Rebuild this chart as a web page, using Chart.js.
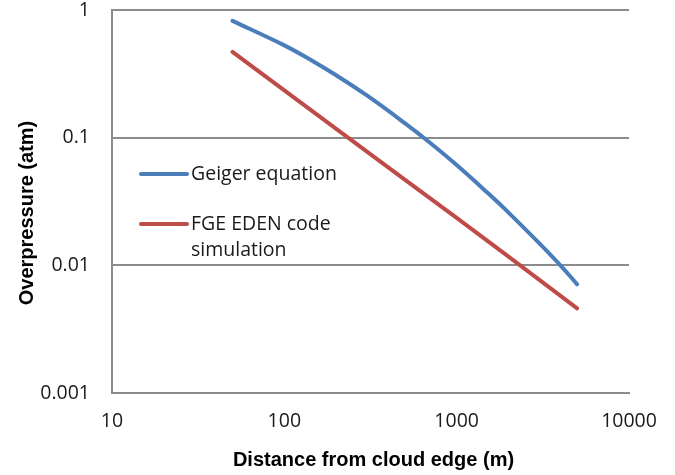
<!DOCTYPE html>
<html>
<head>
<meta charset="utf-8">
<script src="https://cdn.jsdelivr.net/npm/chart.js@4"></script>
<style>
  html, body { margin: 0; padding: 0; background: #fff; }
  #blastChart { display: block; }
</style>
</head>
<body>
<canvas id="blastChart" width="675" height="475"></canvas>
<script>
// distance (m) and overpressure (atm) for each curve
const geigerDistance = [50, 100, 150, 200, 300, 500, 700, 1000, 1500, 2000, 3000, 4000, 5000];
const geigerPressure = [0.822, 0.528, 0.390, 0.308, 0.215, 0.130, 0.0912, 0.0610, 0.0373, 0.0259, 0.0150, 0.0100, 0.0071];

const edenDistance = [50, 100, 200, 500, 1000, 2000, 5000];
const edenPressure = [0.47, 0.235, 0.117, 0.047, 0.0235, 0.0117, 0.0046];

const xTicks = [10, 100, 1000, 10000];
const yTicks = [0.001, 0.01, 0.1, 1];

const seriesNames = ['Geiger equation', 'FGE EDEN code simulation'];
const seriesColors = ['#4a7ebb', '#be4b48'];

const labelFont = '19.5px "Open Sans", sans-serif';
const titleFont = 'bold 20px "Liberation Sans", Arial, sans-serif';
const textColor = '#1a1a1a';
const gridColor = '#8c8c8c';

function toPoints(xs, ys) {
    return xs.map((x, i) => ({ x: x, y: ys[i] }));
}

function wrapWords(ctx, text, maxWidth) {
    const words = text.split(' ');
    const lines = [];
    let line = '';
    words.forEach(w => {
        const test = line ? line + ' ' + w : w;
        if (line && ctx.measureText(test).width > maxWidth) {
            lines.push(line);
            line = w;
        } else {
            line = test;
        }
    });
    if (line) lines.push(line);
    return lines;
}

// legend sits inside the plot, with wrapped labels; axis titles drawn here too
const overlayPlugin = {
    id: 'overlay',
    afterDraw(chart) {
        const ctx = chart.ctx;
        const area = chart.chartArea;
        ctx.save();

        ctx.font = labelFont;
        ctx.textBaseline = 'middle';
        ctx.textAlign = 'left';
        let y = 174;
        chart.data.datasets.forEach(ds => {
            ctx.strokeStyle = ds.borderColor;
            ctx.lineWidth = 4;
            ctx.lineCap = 'round';
            ctx.beginPath();
            ctx.moveTo(area.left + 29, y);
            ctx.lineTo(area.left + 75, y);
            ctx.stroke();
            ctx.fillStyle = textColor;
            const lines = wrapWords(ctx, ds.label, 150);
            lines.forEach((ln, i) => ctx.fillText(ln, area.left + 79, y + i * 26));
            y += 50;
        });

        ctx.font = titleFont;
        ctx.fillStyle = '#000';
        ctx.textAlign = 'center';
        ctx.fillText('Distance from cloud edge (m)', (area.left + area.right) / 2 + 3, 460);

        ctx.translate(27, 213);
        ctx.rotate(-Math.PI / 2);
        ctx.fillText('Overpressure (atm)', 0, 0);
        ctx.restore();
    }
};

const ctx = document.getElementById('blastChart').getContext('2d');
new Chart(ctx, {
    type: 'line',
    data: {
        datasets: [
            {
                label: seriesNames[0],
                data: toPoints(geigerDistance, geigerPressure),
                borderColor: seriesColors[0],
                borderWidth: 4,
                borderCapStyle: 'round',
                tension: 0.4,
                pointRadius: 0,
                fill: false
            },
            {
                label: seriesNames[1],
                data: toPoints(edenDistance, edenPressure),
                borderColor: seriesColors[1],
                borderWidth: 4,
                borderCapStyle: 'round',
                pointRadius: 0,
                fill: false
            }
        ]
    },
    options: {
        responsive: false,
        animation: false,
        events: [],
        layout: { padding: { top: 10, right: 46, left: 0, bottom: 0 } },
        plugins: {
            legend: { display: false },
            tooltip: { enabled: false }
        },
        scales: {
            x: {
                type: 'logarithmic',
                min: 10,
                max: 10000,
                afterBuildTicks: scale => { scale.ticks = xTicks.map(v => ({ value: v })); },
                afterFit: scale => {
                    scale.height = 82;
                    scale.paddingLeft = 0;
                    scale.paddingRight = 0;
                },
                grid: { display: false, drawTicks: false },
                border: { display: true, color: gridColor, width: 2 },
                ticks: {
                    autoSkip: false,
                    maxRotation: 0,
                    padding: 17,
                    color: textColor,
                    font: { family: '"Open Sans", sans-serif', size: 19.5 },
                    callback: v => String(v)
                }
            },
            y: {
                type: 'logarithmic',
                min: 0.001,
                max: 1,
                afterBuildTicks: scale => { scale.ticks = yTicks.map(v => ({ value: v })); },
                afterFit: scale => {
                    scale.width = 112;
                    scale.paddingTop = 0;
                    scale.paddingBottom = 0;
                },
                grid: { color: gridColor, lineWidth: 2, drawTicks: false },
                border: { display: true, color: gridColor, width: 2 },
                ticks: {
                    padding: 22,
                    color: textColor,
                    font: { family: '"Open Sans", sans-serif', size: 19.5 },
                    callback: v => String(v)
                }
            }
        }
    },
    plugins: [overlayPlugin]
});
</script>
</body>
</html>
